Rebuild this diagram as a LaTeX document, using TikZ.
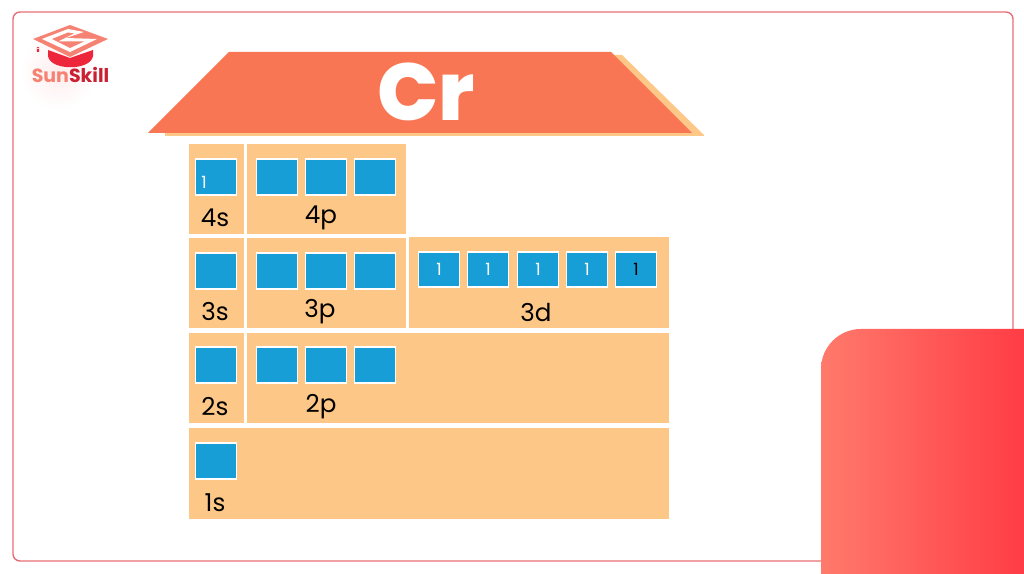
\documentclass[tikz,border=0pt]{standalone}
\usepackage{fontspec}
\usepackage{xcolor}
\setmainfont{Poppins}
\newfontfamily\heavyfont{Poppins ExtraBold}
\usetikzlibrary{positioning, calc, shapes, shadows}

\definecolor{roofred}{RGB}{249,118,84}
\definecolor{panelsand}{RGB}{253,200,135}
\definecolor{orbitalblue}{RGB}{24,158,214}
\definecolor{framered}{RGB}{232,110,118}
\definecolor{logored}{RGB}{238,38,60}
\definecolor{logosalmon}{RGB}{245,130,115}
\definecolor{blockleft}{RGB}{255,122,107}
\definecolor{blockmid}{RGB}{255,114,102}
\definecolor{blockright}{RGB}{255,48,62}

\tikzset{
	orbital/.style={draw=white, line width=0.45pt, fill=orbitalblue, minimum width=0.41cm, minimum height=0.355cm, inner sep=0pt, text=white, font=\fontsize{4.8}{6}\selectfont, drop shadow={shadow xshift=0.25pt, shadow yshift=-0.25pt, opacity=0.35, fill=black}},
	sublevel/.style={inner sep=0pt, anchor=base, text=black, font=\fontsize{7}{9}\selectfont}
}

\begin{document}
\begin{tikzpicture}[x=0.01cm, y=-0.01cm]
		\useasboundingbox (0,0) rectangle (1024,574);
		
		% Frame
		\draw[framered, line width=0.4pt, rounded corners=0.07cm] (13,12) rectangle (1013,561);
		
		% Glow behind the logo
		\shade[inner color=red!7, outer color=white] (58,72) circle (38);
		
		% Corner block
		\begin{scope}
			\clip (0,0) rectangle (1024,574);
			\shade[left color=blockleft, middle color=blockmid, right color=blockright, rounded corners=0.4cm] (821,329) rectangle (1064,620);
		\end{scope}
		
		% Roof
		\fill[panelsand] (165,136) -- (704,136) -- (704,135) -- (622,55) -- (611,55) -- (611,133) -- (165,133) -- cycle;
		\fill[roofred] (148,133) -- (229,52) -- (611,52) -- (692,133) -- cycle;
		\node[text=white, inner sep=0pt, anchor=base, font=\fontsize{23}{28}\heavyfont] (element) at (426,120.5) {Cr};
		
		% Panels
		\fill[panelsand] (189,144) rectangle (244,234);
		\fill[panelsand] (247,144) rectangle (406,234);
		\fill[panelsand] (189,238) rectangle (244,328);
		\fill[panelsand] (247,238) rectangle (406,328);
		\fill[panelsand] (409,237) rectangle (669,328);
		\fill[panelsand] (189,333) rectangle (244,423);
		\fill[panelsand] (247,333) rectangle (669,423);
		\fill[panelsand] (189,428) rectangle (669,519);
		
		% Sublevel names
		\node[sublevel] (l4s) at (215,227) {4s};
		\node[sublevel] (l4p) at (321,224) {4p};
		\node[sublevel] (l3s) at (215,321) {3s};
		\node[sublevel] (l3p) at (320,318) {3p};
		\node[sublevel] (l3d) at (536,322) {3d};
		\node[sublevel] (l2s) at (215,416) {2s};
		\node[sublevel] (l2p) at (321,413) {2p};
		\node[sublevel] (l1s) at (215,512) {1s};
		
		% Empty orbitals
		\foreach \name/\xc/\yc in {s4/216/177, s3/216/271, s2/216/365, s1/216/461} {
			\node[orbital] (\name) at (\xc,\yc) {};
		}
		\foreach \yc/\lev in {177/4, 271/3, 365/2} {
			\foreach \xc/\idx in {277/a, 326/b, 375/c} {
				\node[orbital] (p\lev\idx) at (\xc,\yc) {};
			}
		}
		\node[text=white, inner sep=0pt, font=\fontsize{4.8}{6}\selectfont] (one4s) at (204,182) {1};
		
		% 3d orbitals
		\foreach \xc/\idx in {439/a, 488/b, 538/c, 587/d} {
			\node[orbital] (d3\idx) at (\xc,269.5) {1};
		}
		\node[orbital, text=black] (d3e) at (636,269.5) {1};
		
		% Logo
		\fill[logored] (48,50) -- (48,56) .. controls (50,71) and (91,71) .. (93,56) -- (93,50) -- (70,58) -- cycle;
		\fill[logosalmon] (33,39) -- (70,25) -- (108,39) -- (70,57) -- cycle;
		\fill[white] (42,39) -- (68,29) -- (84,32) -- (66,38) -- (97,39) -- (70,52) -- cycle;
		\fill[logosalmon] (52,39) -- (68,32.5) -- (74,33.5) -- (58,41.5) -- (84,41.5) -- (70,48) -- cycle;
		\fill[logored] (38,48) circle (1.4) (36.8,48) rectangle (39.2,52);
		\node[inner sep=0pt, anchor=base, font=\fontsize{5.4}{7}\selectfont\bfseries] (logoname) at (70.5,83) {\textcolor{logosalmon}{Sun}\textcolor{logored!85!black}{Skill}};
	\end{tikzpicture}
\end{document}
